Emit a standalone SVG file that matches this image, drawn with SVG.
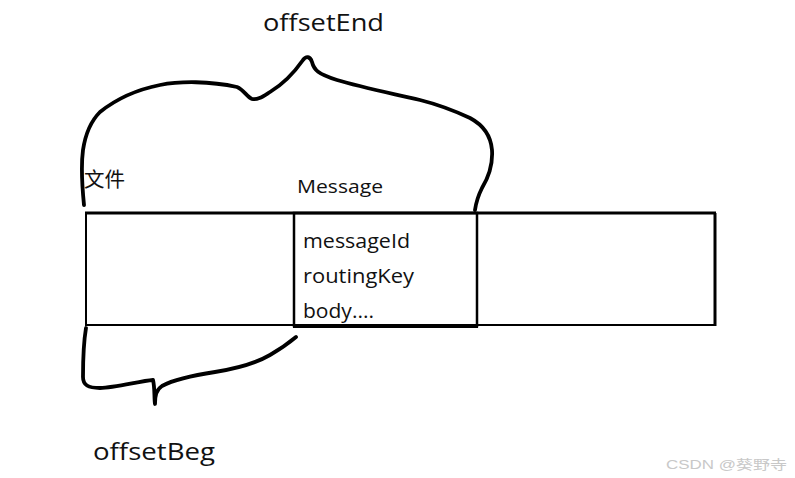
<svg xmlns="http://www.w3.org/2000/svg" width="795" height="478" viewBox="0 0 795 478">
<style>
.t{font-family:"Open Sans","Noto Sans","Liberation Sans",sans-serif;fill:#111}
.cjk{font-family:"Noto Sans CJK SC","Noto Sans",sans-serif;fill:#111}
.brace{fill:none;stroke:#000;stroke-width:3.8;stroke-linecap:round;stroke-linejoin:round}
.ln{stroke:#000;fill:none}
</style>
<rect width="795" height="478" fill="#fff"/>
<g id="file">
<line class="ln" x1="85" y1="213" x2="716" y2="213" stroke-width="3"/>
<line class="ln" x1="715" y1="213" x2="715" y2="326" stroke-width="3"/>
<line class="ln" x1="86" y1="213" x2="86" y2="325" stroke-width="2"/>
<line class="ln" x1="85" y1="325" x2="716" y2="325" stroke-width="2" stroke="#222"/>
<text class="cjk" x="84" y="187" font-size="20" textLength="41" lengthAdjust="spacingAndGlyphs">文件</text>
</g>
<g id="message">
<rect class="ln" x="294" y="213" width="183" height="113" stroke-width="2.5"/>
<line class="ln" x1="293" y1="326.5" x2="478" y2="326.5" stroke-width="3"/>
<text class="t" x="297" y="193" font-size="19" textLength="86" lengthAdjust="spacingAndGlyphs">Message</text>
<text class="t" x="303" y="248" font-size="20" textLength="107" lengthAdjust="spacingAndGlyphs">messageId</text>
<text class="t" x="303" y="283" font-size="20" textLength="111" lengthAdjust="spacingAndGlyphs">routingKey</text>
<text class="t" x="303" y="318" font-size="20" textLength="71" lengthAdjust="spacingAndGlyphs">body....</text>
</g>
<g id="offsetEnd">
<text class="t" x="263" y="31" font-size="24" textLength="121" lengthAdjust="spacingAndGlyphs" fill="#222">offsetEnd</text>
</g>
<g id="offsetBeg">
<text class="t" x="93" y="460" font-size="24" textLength="122" lengthAdjust="spacingAndGlyphs" fill="#222">offsetBeg</text>
</g>
<g id="connectors">
<path class="brace" d="M84,205 C82,185 81,165 83,150 C86,130 92,120 100,112 C115,100 135,90 160,85 C180,81 210,81 237,87 C244,90 247,97 252,99 C258,100 262,97 270,92 C285,83 296,70 303,60 C306,56 310,56 312,62 C314,70 318,74 337,80 C360,87 390,93 420,100 C440,105 455,111 470,118 C485,126 491,138 492,150 C493,165 488,178 482,188 C478,196 476,203 475,210"/>
<path class="brace" d="M86,328 C84,340 83,360 83,377 C83,385 88,388 100,388 C115,388 140,381 153,380 C155,388 154,398 155,404 C155,396 156,390 162,386 C175,379 195,375 215,372 C240,368 258,362 270,355 C282,348 290,342 296,337"/>
</g>
<text x="666" y="469" font-family="'Liberation Sans','Noto Sans CJK SC',sans-serif" font-size="13" textLength="121" lengthAdjust="spacingAndGlyphs" fill="#c8c8c8">CSDN @葵野寺</text>
</svg>
